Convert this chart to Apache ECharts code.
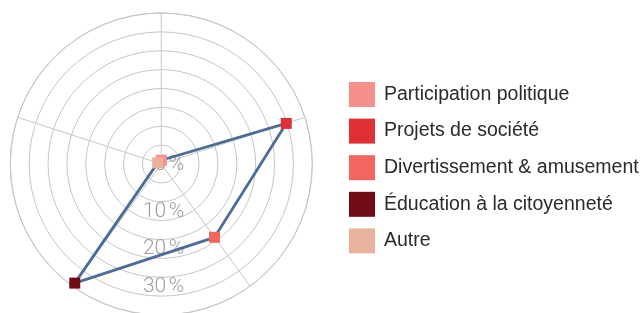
<!DOCTYPE html>
<html>
<head>
<meta charset="utf-8">
<script src="https://cdn.jsdelivr.net/npm/echarts@6/dist/echarts.min.js"></script>
<style>
html,body{margin:0;padding:0;background:#fff;}
#chart{width:642px;height:313px;}
</style>
</head>
<body>
<div id="chart"></div>
<script>
// Data
var categories = ['Participation politique', 'Projets de société', 'Divertissement & amusement', 'Éducation à la citoyenneté', 'Autre'];
var values = [1.0, 34.8, 24.0, 39.0, 1.0];
var colors = ['#f5918a', '#df3036', '#f2665f', '#6f0c14', '#e8b29c'];
var radiusTicks = [0, 10, 20, 30];

var step = 360 / categories.length;
var linePts = categories.map(function (c, i) { return [values[i], i * step]; });
linePts.push([values[0], categories.length * step]);

var series = [{
  type: 'line',
  coordinateSystem: 'polar',
  polarIndex: 0,
  data: linePts,
  symbol: 'none',
  lineStyle: { color: '#4e6c97', width: 2.8 },
  z: 2,
  silent: true
}];
categories.forEach(function (c, i) {
  series.push({
    name: c,
    type: 'scatter',
    coordinateSystem: 'polar',
    polarIndex: 0,
    symbol: 'rect',
    symbolSize: 11,
    itemStyle: { color: colors[i], opacity: 1 },
    data: [[values[i], i * step]],
    z: 3
  });
});

var labelFont = { color: '#a0a0a0', fontSize: 21, fontFamily: 'Roboto', fontWeight: 300 };

var chart = echarts.init(document.getElementById('chart'), null, { renderer: 'canvas' });
var gridColor = '#c3c7c7';
chart.setOption({
  animation: false,
  polar: [
    { center: [161.3, 164], radius: 151 },
    { center: [161.3, 164], radius: 151 }
  ],
  angleAxis: [
    {
      polarIndex: 0, type: 'value', min: 0, max: 360, interval: step,
      startAngle: 90, clockwise: true,
      axisLine: { show: true, lineStyle: { color: gridColor, width: 1 } },
      axisTick: { show: false }, axisLabel: { show: false },
      splitLine: { show: true, lineStyle: { color: gridColor, width: 1 } }
    },
    {
      polarIndex: 1, type: 'value', min: 0, max: 360,
      startAngle: 270, clockwise: true,
      axisLine: { show: false }, axisTick: { show: false }, axisLabel: { show: false },
      splitLine: { show: false }
    }
  ],
  radiusAxis: [
    {
      polarIndex: 0, type: 'value', min: 0, max: 40, interval: 5,
      axisLine: { show: false }, axisTick: { show: false }, axisLabel: { show: false },
      splitLine: { show: true, lineStyle: { color: gridColor, width: 1 } }
    },
    {
      polarIndex: 1, type: 'value', min: 0, max: 40, interval: 10,
      axisLine: { show: false }, axisTick: { show: false },
      splitLine: { show: false },
      z: 1,
      axisLabel: {
        show: true,
        margin: 23,
        align: 'right',
        verticalAlign: 'top',
        lineHeight: 19,
        color: labelFont.color,
        fontSize: labelFont.fontSize,
        fontFamily: labelFont.fontFamily,
        fontWeight: labelFont.fontWeight,
        rich: {
          z: Object.assign({ lineHeight: 2 }, labelFont),
          a: Object.assign({ lineHeight: 19 }, labelFont)
        },
        formatter: function (v) {
          if (radiusTicks.indexOf(v) < 0) return '';
          return (v === 0 ? '{z|' : '{a|') + v + '\u202f%}';
        }
      }
    }
  ],
  legend: {
    data: categories,
    orient: 'vertical',
    left: 349,
    top: 82,
    padding: 0,
    itemWidth: 26,
    itemHeight: 25,
    itemGap: 11.6,
    icon: 'rect',
    selectedMode: false,
    itemStyle: { opacity: 1 },
    textStyle: { color: '#2a2a2a', fontSize: 19.5, fontFamily: 'Liberation Sans', padding: [0, 0, 0, 4] }
  },
  series: series
});
</script>
</body>
</html>
